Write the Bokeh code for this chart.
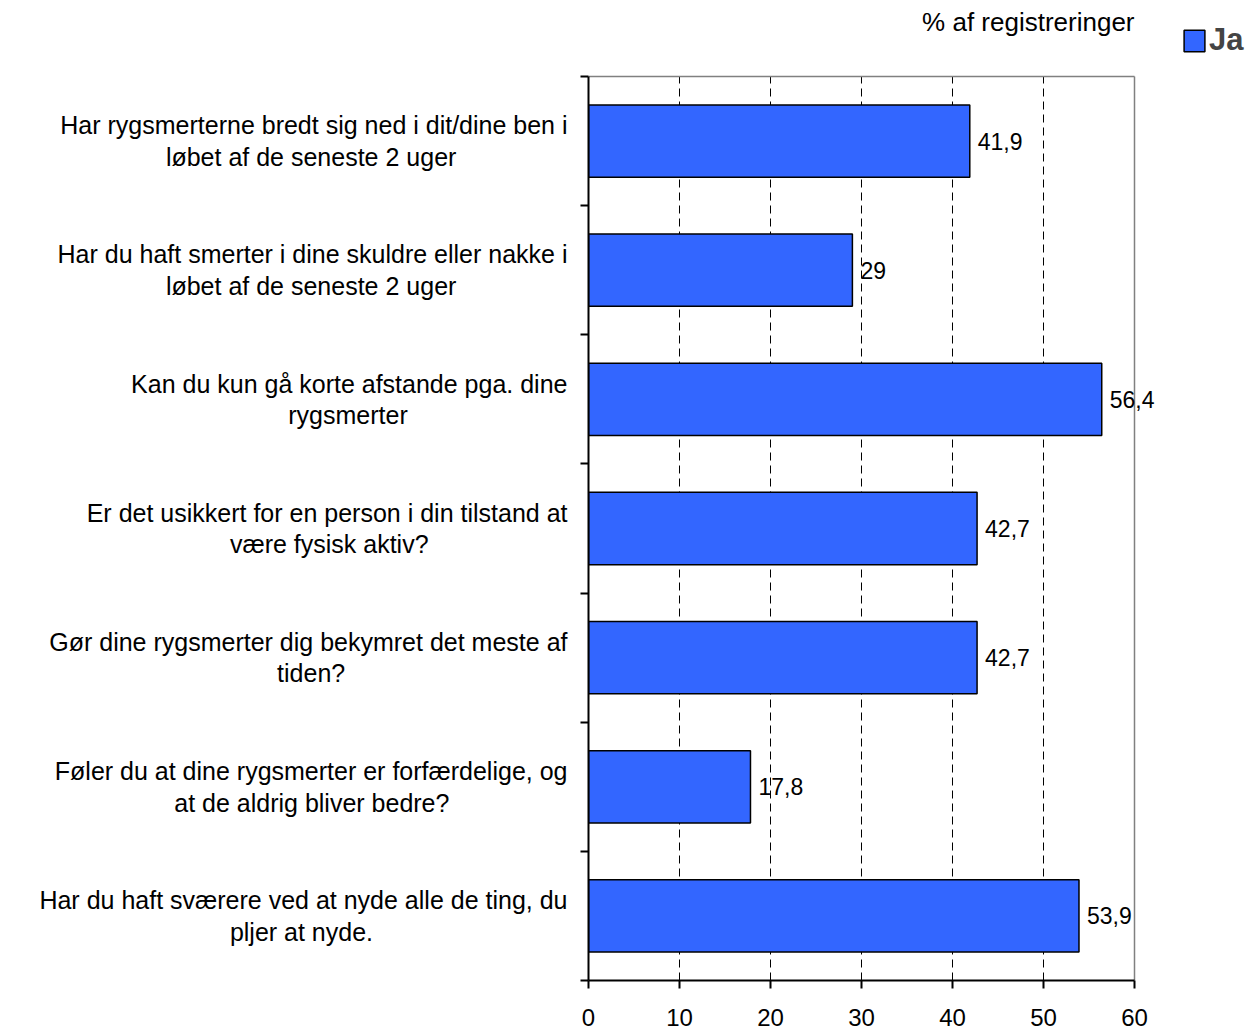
from bokeh.plotting import figure
from bokeh.models import (Label, LabelSet, Legend, LegendItem, FixedTicker,
                          ColumnDataSource, Range1d)
from bokeh.core.properties import value
from bokeh.embed import file_html
from bokeh.resources import INLINE

# ---- data ----
categories = [
    "Har rygsmerterne bredt sig ned i dit/dine ben i\nløbet af de seneste 2 uger",
    "Har du haft smerter i dine skuldre eller nakke i\nløbet af de seneste 2 uger",
    "Kan du kun gå korte afstande pga. dine\nrygsmerter",
    "Er det usikkert for en person i din tilstand at\nvære fysisk aktiv?",
    "Gør dine rygsmerter dig bekymret det meste af\ntiden?",
    "Føler du at dine rygsmerter er forfærdelige, og\nat de aldrig bliver bedre?",
    "Har du haft sværere ved at nyde alle de ting, du\npljer at nyde.",
]
values = [41.9, 29, 56.4, 42.7, 42.7, 17.8, 53.9]
value_labels = ["41,9", "29", "56,4", "42,7", "42,7", "17,8", "53,9"]
x_ticks = [0, 10, 20, 30, 40, 50, 60]
series_name = "Ja"
axis_title = "% af registreringer"

FONT = "Liberation Sans"
BLUE = "#3366FF"

# ---- layout (pixels) ----
W, H = 1250, 1030
LEFT = 588          # x of value 0
X60 = 1134          # x of value 60
TOP = 76            # top of the box
BOTTOM = 980        # bottom of the box

# approximate Arial / Liberation Sans advance widths (1/1000 em), used to
# centre the second line of each category label under the first one
_AW = {' ': 278, ',': 278, '.': 278, '/': 278, '?': 556, '2': 556,
       'a': 556, 'b': 556, 'c': 500, 'd': 556, 'e': 556, 'f': 278, 'g': 556,
       'h': 556, 'i': 222, 'j': 222, 'k': 500, 'l': 222, 'm': 833, 'n': 556,
       'o': 556, 'p': 556, 'q': 556, 'r': 333, 's': 500, 't': 278, 'u': 556,
       'v': 500, 'w': 722, 'x': 500, 'y': 500, 'z': 500, 'æ': 889, 'ø': 611,
       'å': 556, 'H': 722, 'K': 667, 'E': 667, 'G': 778, 'F': 611}


def _w(s):
    return sum(_AW.get(ch, 556) for ch in s)


def centred(label):
    lines = label.split("\n")
    wmax = max(_w(l) for l in lines)
    out = []
    for l in lines:
        pad = int(round((wmax - _w(l)) / 2 / 278))
        out.append(l + "\u00a0" * pad)
    return "\n".join(out)


n = len(categories)
ys = [n - i for i in range(n)]          # category centres 7..1
y_lo, y_hi = 0.5, n + 0.5
x_lo, x_hi = x_ticks[0], x_ticks[-1]

px_x = (X60 - LEFT) / (x_hi - x_lo)
px_y = (BOTTOM - TOP) / (y_hi - y_lo)
x_end = x_hi + (W - X60) / px_x
y_end = y_hi + TOP / px_y

src = ColumnDataSource(dict(y=ys, v=values, vl=value_labels))

p = figure(frame_width=W - LEFT, frame_height=BOTTOM,
           min_border_left=LEFT, min_border_right=0,
           min_border_top=0, min_border_bottom=H - BOTTOM,
           x_range=Range1d(x_lo, x_end), y_range=Range1d(y_lo, y_end),
           output_backend="svg", toolbar_location=None,
           background_fill_color="white", border_fill_color="white")
p.outline_line_color = None

# bars
r = p.hbar(y="y", left=0, right="v", height=0.56, source=src,
           fill_color=BLUE, line_color="black", line_width=1.5)

# grid
p.ygrid.grid_line_color = None
p.xgrid.ticker = FixedTicker(ticks=x_ticks[1:-1])
p.xgrid.grid_line_color = "black"
p.xgrid.grid_line_dash = "8 5"
p.xgrid.grid_line_width = 1
if hasattr(p.xgrid[0], "cross_bounds"):
    p.xgrid.cross_bounds = (y_lo, y_hi)

# gray box (top and right sides)
p.segment(x0=[x_lo, x_hi], y0=[y_hi, y_lo], x1=[x_hi, x_hi], y1=[y_hi, y_hi],
          line_color="#808080", line_width=1.5)

# axes
p.xaxis.ticker = FixedTicker(ticks=x_ticks)
p.xaxis.bounds = (x_lo, x_hi)
p.yaxis.bounds = (y_lo, y_hi)
p.yaxis.ticker = FixedTicker(ticks=ys, minor_ticks=[k + 0.5 for k in range(n + 1)])
for axis in (p.xaxis, p.yaxis):
    axis.axis_line_color = "black"
    axis.axis_line_width = 2
    axis.major_tick_line_color = "black"
    axis.major_tick_line_width = 2
    axis.major_tick_in = 0
ax = p.xaxis[0]
ax.major_tick_out = 8
ax.minor_tick_line_color = None
ax.major_label_text_font = FONT
ax.major_label_text_font_size = "24px"
ax.major_label_text_color = "black"
ax.major_label_standoff = 20

ay = p.yaxis[0]
ay.major_tick_out = 0
ay.minor_tick_in = 0
ay.minor_tick_out = 8
ay.minor_tick_line_color = "black"
ay.minor_tick_line_width = 2
ay.major_label_overrides = {y: centred(c) for y, c in zip(ys, categories)}
ay.major_label_text_font = FONT
ay.major_label_text_font_size = "25px"
ay.major_label_text_color = "black"
ay.major_label_text_line_height = 1.13
ay.major_label_standoff = 13

# value labels
p.add_layout(LabelSet(x="v", y="y", text="vl", source=src, x_offset=8,
                      text_baseline="middle", text_align="left",
                      text_font=value(FONT), text_font_size=value("23px"),
                      text_color="black"))

# axis title
p.add_layout(Label(x=x_hi, y=y_hi, text=axis_title, text_align="right",
                   text_baseline="middle", y_offset=TOP - 21,
                   text_font=FONT, text_font_size="26px", text_color="black"))

# legend
legend = Legend(items=[LegendItem(label=series_name, renderers=[r])],
                location=(1181 - LEFT, BOTTOM - 58), orientation="vertical",
                border_line_color=None, background_fill_alpha=0,
                padding=0, margin=0, glyph_width=26, glyph_height=27,
                label_text_font=FONT, label_text_font_size="31px",
                label_text_font_style="bold", label_standoff=2)
p.add_layout(legend, "center")

open("out.html", "w").write(file_html(p, INLINE))
